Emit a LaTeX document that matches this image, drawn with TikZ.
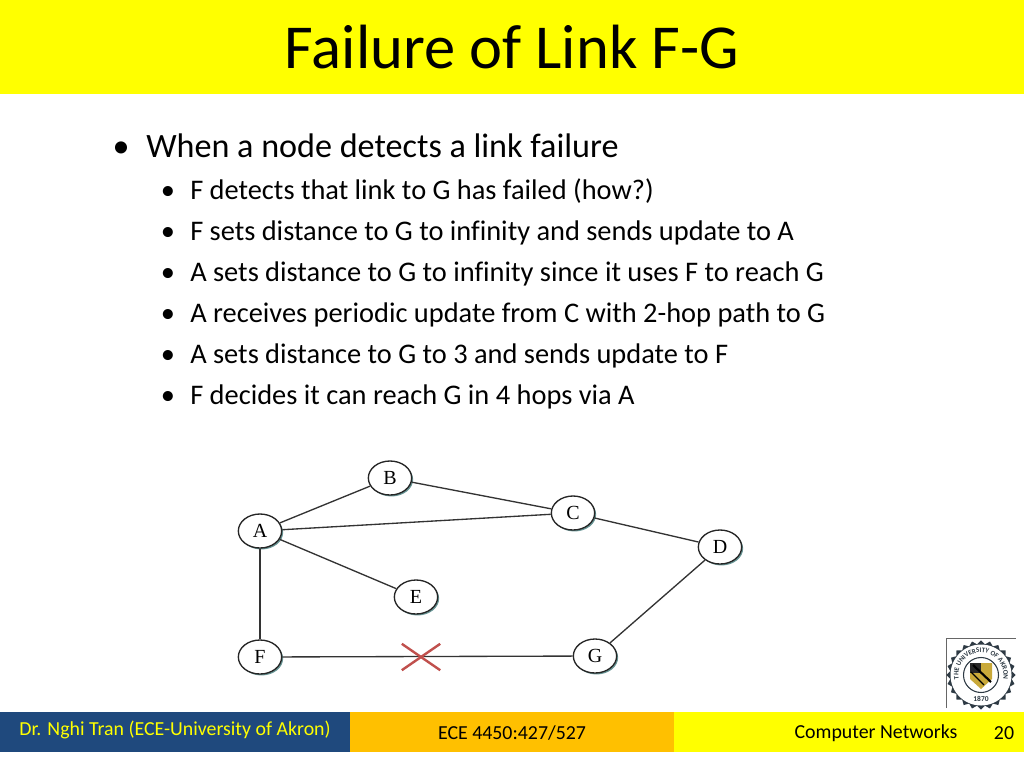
\documentclass[tikz,border=0pt]{standalone}
\usepackage{fontspec}
\setmainfont{Carlito}[Ligatures=NoCommon]
\newfontfamily\nodefont{Liberation Serif}
\usetikzlibrary{positioning, shapes.geometric, shapes.misc, shadows, decorations.text}
\definecolor{slideyellow}{HTML}{FFFF00}
\definecolor{slideorange}{HTML}{FFC000}
\definecolor{slideblue}{HTML}{1F497D}
\definecolor{crossred}{HTML}{C0504D}
\definecolor{sealgold}{HTML}{C9A93A}
\definecolor{sealink}{HTML}{2E3A44}
\tikzset{netnode/.style = {%
    ellipse, draw=black!85, fill=white, line width=1pt,
    minimum width=32.5pt, minimum height=25.5pt, inner sep=0pt,
    font=\nodefont\fontsize{15}{16}\selectfont,
    drop shadow={shadow xshift=1.1pt, shadow yshift=-1.1pt, fill=teal!60!black, opacity=0.6}},
  netlink/.style = {draw=black!80, line width=1pt},
  bulletA/.style = {anchor=base west, inner sep=0pt, font=\fontsize{25.6}{28}\selectfont},
  bulletB/.style = {anchor=base west, inner sep=0pt, font=\fontsize{21.3}{23}\selectfont},
  foot/.style = {inner sep=0pt, font=\fontsize{14.9}{16}\selectfont}}

\begin{document}
\begin{tikzpicture}[x=0.75pt, y=-0.75pt]
\useasboundingbox (0,0) rectangle (1024,768);
% title
\fill[slideyellow] (0,0) rectangle (1024,94);
\node[inner sep=0pt, font=\fontsize{46.9}{56}\selectfont] (title) at (512,47) {Failure of Link F-G};
% bullets
\node[bulletA] (head) at (146,157) {When a node detects a link failure};
\node[bulletA, anchor=base] (headdot) at (121,157) {\textbullet};
\foreach \y/\t in {199/F detects that link to G has failed (how?),
                   240/F sets distance to G to infinity and sends update to A,
                   281/A sets distance to G to infinity since it uses F to reach G,
                   322/A receives periodic update from C with 2-hop path to G,
                   363/A sets distance to G to 3 and sends update to F,
                   404/F decides it can reach G in 4 hops via A}
{
  \node[bulletB] (item\y) at (190,\y) {\t};
  \node[bulletB, anchor=base] (dot\y) at (168,\y) {\textbullet};
}
% network
\node[netnode] (A) at (260,531) {A};
\node[netnode] (B) at (390,478) {B};
\node[netnode] (C) at (573,513) {C};
\node[netnode] (D) at (720,547) {D};
\node[netnode] (E) at (416,597) {E};
\node[netnode] (F) at (260,657) {F};
\node[netnode] (G) at (595,656) {G};
\draw[netlink] (A) -- (B);
\draw[netlink] (B) -- (C);
\draw[netlink] (A) -- (C);
\draw[netlink] (C) -- (D);
\draw[netlink] (A) -- (E);
\draw[netlink] (A) -- (F);
\draw[netlink] (F) -- (G);
\draw[netlink] (G) -- (D);
\node[cross out, draw=crossred, line width=1.8pt, inner sep=0pt,
      minimum width=27pt, minimum height=18pt] (cut) at (421,657) {};
% seal
\draw[black!60, line width=0.4pt] (946,708) -- (946,638) -- (1016,638);
\node[star, star points=24, star point ratio=1.12, fill=sealink, draw=none,
      minimum size=52pt, inner sep=0pt] (seal) at (981,675) {};
\fill[white] (981,675) circle (30.5);
\draw[sealink, line width=0.8pt] (981,675) circle (17.5);
\path[decorate, decoration={text along path, text align=center,
      text={|\fontsize{5.2}{6}\selectfont\bfseries\color{sealink}|THE UNIVERSITY OF AKRON}}]
      (961.5,686.25) arc[start angle=150, end angle=390, radius=22.5];
\node[inner sep=0pt, font=\fontsize{5.6}{6}\selectfont\bfseries, text=sealink] (year) at (981,699) {1870};
\fill[sealgold] (970,663) -- (992,663) -- (992,679) -- (981,689) -- (970,679) -- cycle;
\fill[black!85] (970,663) rectangle (981,673);
\draw[black, line width=1.6pt] (973,665) -- (991,682);
\draw[black, line width=0.9pt] (971,672) -- (984,685);
% footer
\fill[slideblue] (0,712) rectangle (350,752);
\fill[slideorange] (350,712) rectangle (674,752);
\fill[slideyellow] (674,712) rectangle (1024,752);
\node[foot, text=slideyellow] (author) at (175,730) {Dr. Nghi Tran (ECE-University of Akron)};
\node[foot] (course) at (512,733) {ECE 4450:427/527};
\node[foot] (subject) at (876,733) {Computer Networks};
\node[foot] (page) at (1004,733) {20};
\end{tikzpicture}
\end{document}
